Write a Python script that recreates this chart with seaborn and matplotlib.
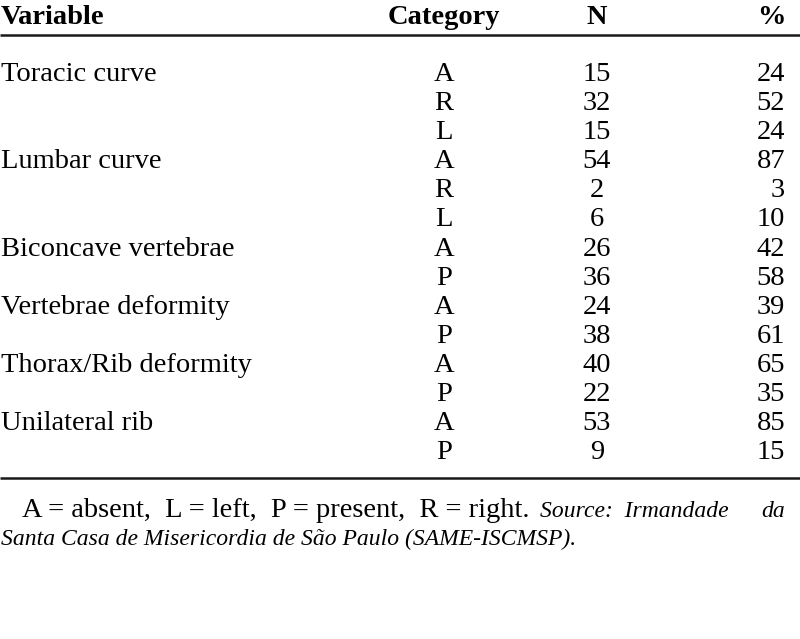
import matplotlib
matplotlib.use("Agg")
import matplotlib.pyplot as plt
import seaborn as sns

sns.set_theme(style="white")
plt.rcParams['font.family'] = ['Liberation Serif', 'DejaVu Serif']
plt.rcParams['text.color'] = 'black'

headers = ["Variable", "Category", "N", "%"]
variables = ["Toracic curve", "", "", "Lumbar curve", "", "", "Biconcave vertebrae", "",
             "Vertebrae deformity", "", "Thorax/Rib deformity", "", "Unilateral rib", ""]
categories = ["A", "R", "L", "A", "R", "L", "A", "P", "A", "P", "A", "P", "A", "P"]
n_values = [15, 32, 15, 54, 2, 6, 26, 36, 24, 38, 40, 22, 53, 9]
pct_values = [24, 52, 24, 87, 3, 10, 42, 58, 39, 61, 65, 35, 85, 15]

fig = plt.figure(figsize=(8, 6.39), dpi=100)
ax = fig.add_axes([0, 0, 1, 1])
ax.set_xlim(0, 800)
ax.set_ylim(639, 0)
ax.axis("off")

fs = 20.5
fs_it = 17
x_var, x_cat, x_n, x_pct = 1, 444, 597, 785

# header
ax.text(x_var, 24, headers[0], fontsize=fs, fontweight="bold", va="baseline", ha="left")
ax.text(x_cat, 24, headers[1], fontsize=fs, fontweight="bold", va="baseline", ha="center")
ax.text(x_n, 24, headers[2], fontsize=fs, fontweight="bold", va="baseline", ha="center")
ax.text(x_pct, 24, headers[3], fontsize=fs, fontweight="bold", va="baseline", ha="right")

ax.plot([0, 800], [34.5, 34.5], color="#1a1a1a", lw=1.8, solid_capstyle="butt")

y0, dy = 81, 29.1
for i, (v, c, n, p) in enumerate(zip(variables, categories, n_values, pct_values)):
    y = y0 + i * dy
    if v:
        ax.text(x_var, y, v, fontsize=fs, va="baseline", ha="left")
    ax.text(x_cat, y, c, fontsize=fs, va="baseline", ha="center")
    ax.text(x_n, y, str(n), fontsize=fs, va="baseline", ha="center")
    ax.text(x_pct, y, str(p), fontsize=fs, va="baseline", ha="right")

ax.plot([0, 800], [478, 478], color="#1a1a1a", lw=1.8, solid_capstyle="butt")

# footnote
ax.text(22, 517, "A = absent,  L = left,  P = present,  R = right.", fontsize=fs,
        va="baseline", ha="left")
ax.text(540, 517, "Source:  Irmandade", fontsize=fs_it, style="italic",
        va="baseline", ha="left")
ax.text(785, 517, "da", fontsize=fs_it, style="italic", va="baseline", ha="right")
ax.text(1, 545, "Santa Casa de Misericordia de São Paulo (SAME-ISCMSP).", fontsize=fs_it,
        style="italic", va="baseline", ha="left")

fig.savefig("out.png", dpi=100)
